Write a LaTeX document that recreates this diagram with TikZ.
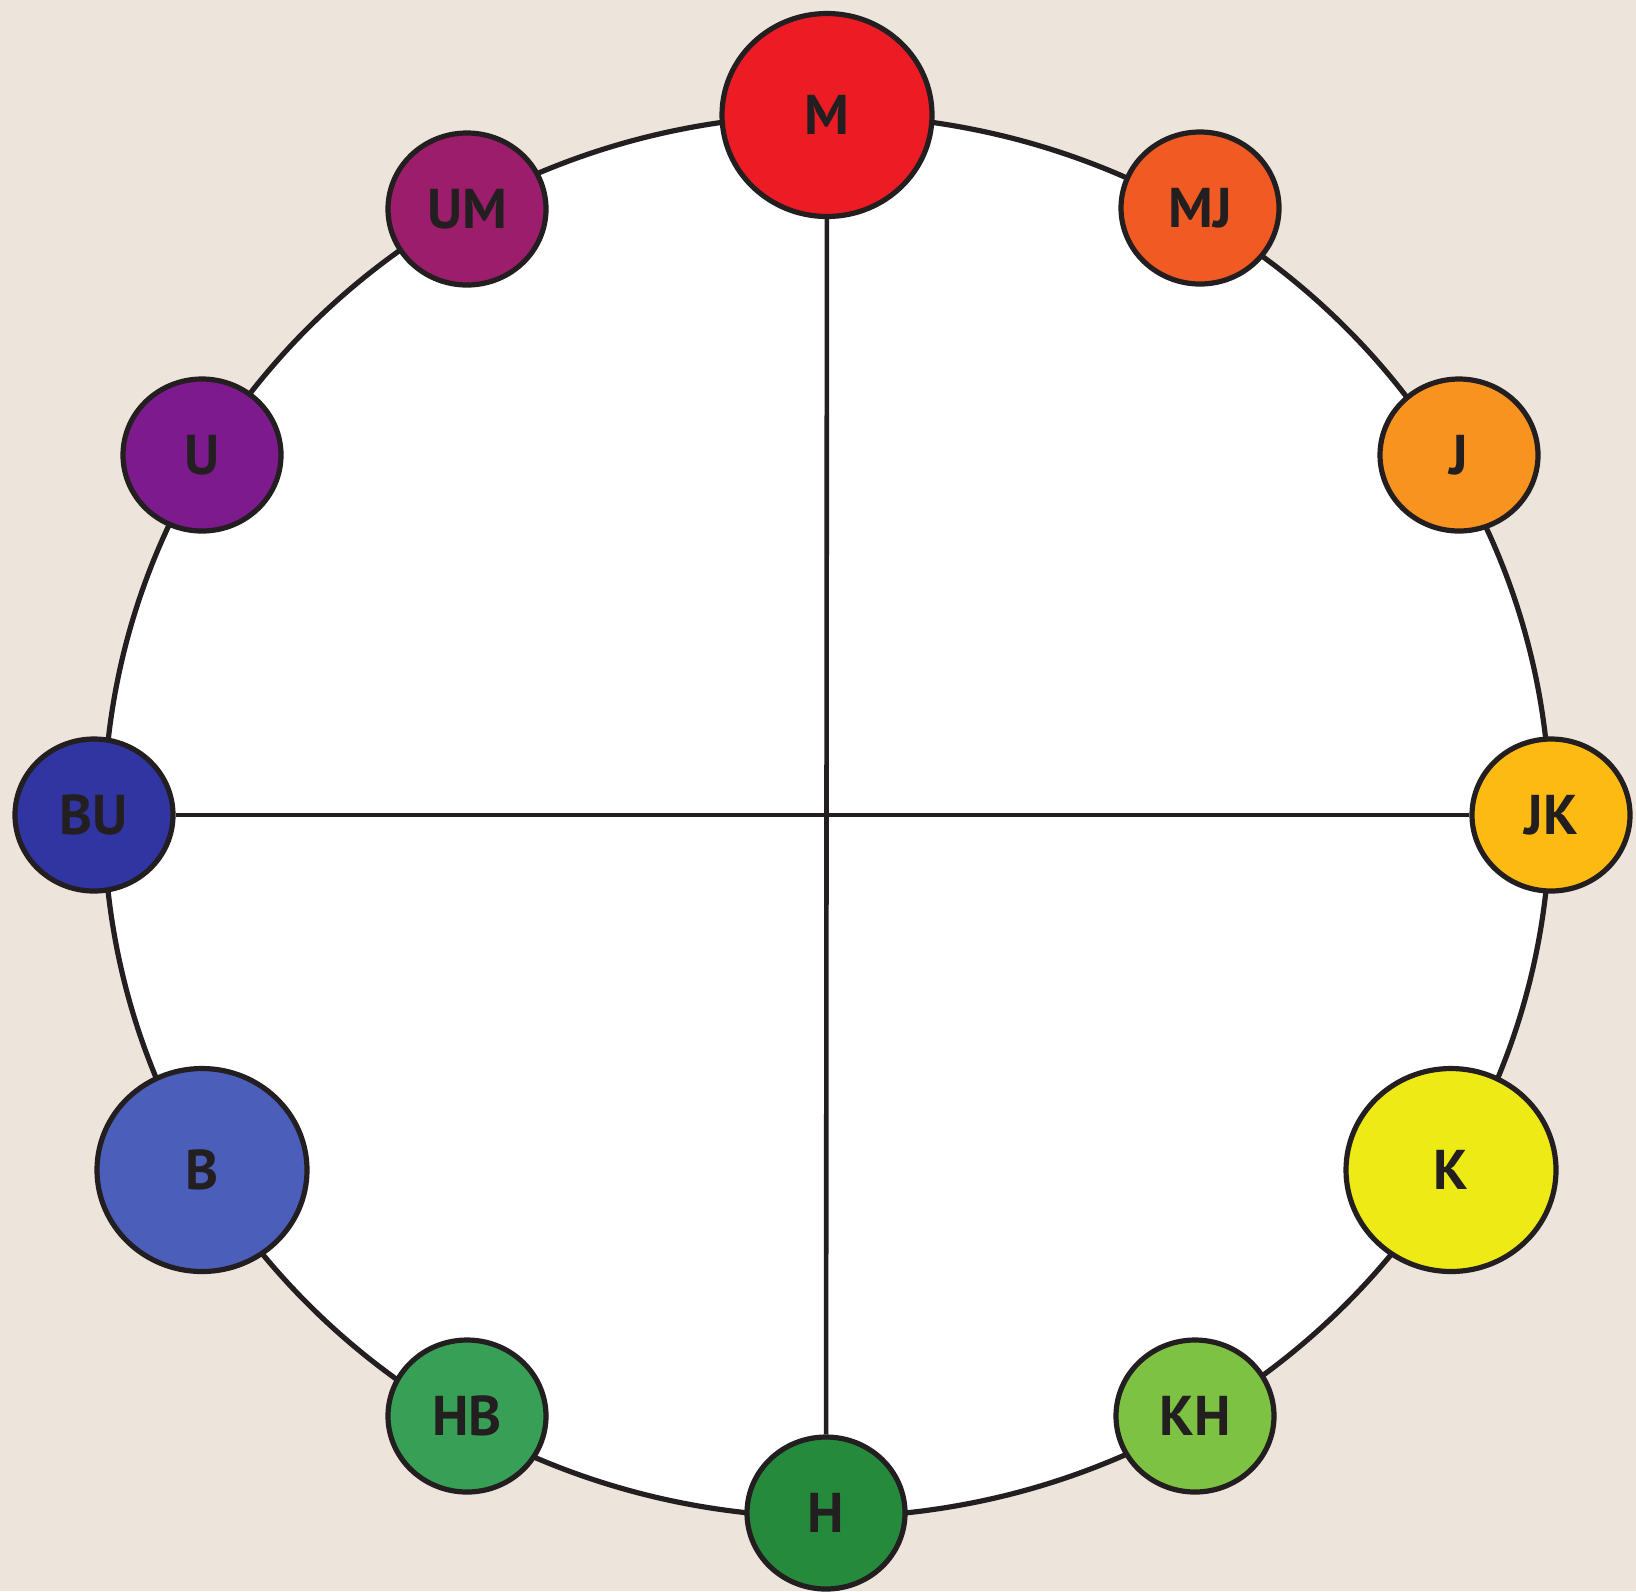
\documentclass[tikz,border=0pt]{standalone}
\usepackage{fontspec}
\setmainfont{PT Sans}
\usetikzlibrary{shapes.geometric}
\definecolor{bg}{HTML}{EDE4DB}
\definecolor{ink}{HTML}{231F20}
\definecolor{cM}{HTML}{ED1C24}
\definecolor{cMJ}{HTML}{F15A22}
\definecolor{cJ}{HTML}{F7931E}
\definecolor{cJK}{HTML}{FDBA13}
\definecolor{cK}{HTML}{EEEA16}
\definecolor{cKH}{HTML}{7DC242}
\definecolor{cH}{HTML}{268A3C}
\definecolor{cHB}{HTML}{37A056}
\definecolor{cB}{HTML}{4A5EBA}
\definecolor{cBU}{HTML}{3035A2}
\definecolor{cU}{HTML}{7D1A8E}
\definecolor{cUM}{HTML}{9B1D6B}
\tikzset{
  hue/.style={shape=ellipse, draw=ink, line width=2.6pt, inner sep=0pt,
    minimum width=79pt, minimum height=76pt, text=ink,
    font=\fontsize{28}{30}\selectfont\bfseries},
  bighue/.style={hue, minimum width=105pt, minimum height=101.5pt},
  axis/.style={draw=ink, line width=2.3pt}
}
\begin{document}
\begin{tikzpicture}[x=0.5pt,y=-0.5pt]
\fill[bg] (0,0) rectangle (1636,1591);
\useasboundingbox (0,0) rectangle (1636,1591);
\filldraw[fill=white, draw=ink, line width=2.6pt] (827,816) ellipse [x radius=723, y radius=701];
\node[bighue, fill=cM]  (M)  at (827,115)  {M};
\node[hue, fill=cMJ]    (MJ) at (1200,208) {MJ};
\node[hue, fill=cJ]     (J)  at (1459,455) {J};
\node[hue, fill=cJK]    (JK) at (1551,815) {JK};
\node[bighue, fill=cK]  (K)  at (1451,1170) {K};
\node[hue, fill=cKH]    (KH) at (1195,1416) {KH};
\node[hue, fill=cH]     (H)  at (826,1513) {H};
\node[hue, fill=cHB]    (HB) at (467,1416) {HB};
\node[bighue, fill=cB]  (B)  at (202,1170) {B};
\node[hue, fill=cBU]    (BU) at (94,815)   {BU};
\node[hue, fill=cU]     (U)  at (202,455)  {U};
\node[hue, fill=cUM]    (UM) at (467,209)  {UM};
\draw[axis] (M) -- (H);
\draw[axis] (BU) -- (JK);
\end{tikzpicture}
\end{document}
